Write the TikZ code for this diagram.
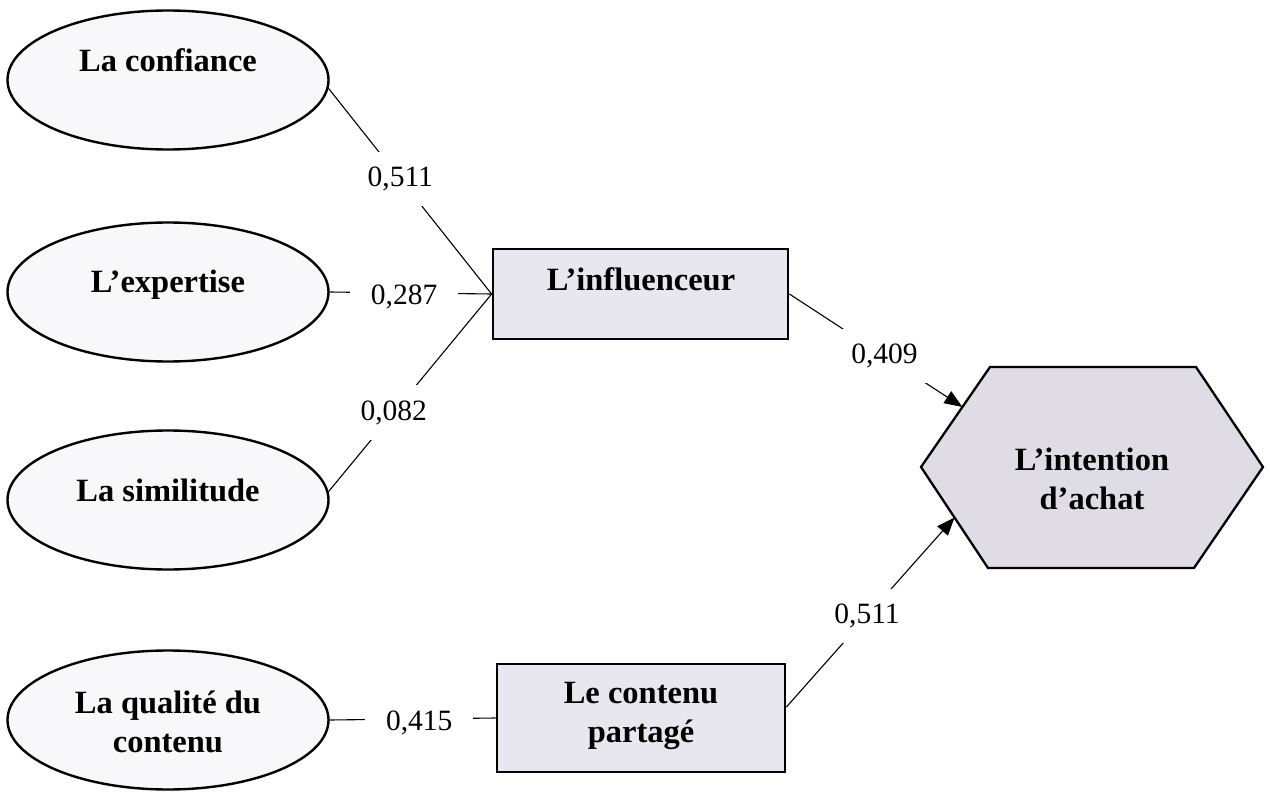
\documentclass[tikz,border=0pt]{standalone}
\usepackage{fontspec}
\setmainfont{Liberation Serif}
\usetikzlibrary{arrows.meta,calc,shapes.geometric}
\definecolor{ellfill}{RGB}{248,248,250}
\definecolor{boxfill}{RGB}{232,230,238}
\definecolor{hexfill}{RGB}{224,220,230}
\begin{document}
\begin{tikzpicture}[x=1pt,y=-1pt,
  latent/.style={ellipse,draw=black,line width=2.4pt,fill=ellfill,
    minimum width=321pt,minimum height=139pt,inner sep=0pt},
  construct/.style={rectangle,draw=black,line width=2.8pt,fill=boxfill,inner sep=0pt},
  title/.style={font=\fontsize{32.5}{38.5}\selectfont\bfseries,align=center,
    anchor=base,inner sep=0pt},
  coef/.style={font=\fontsize{29.5}{34}\selectfont,fill=white,
    inner xsep=21pt,inner ysep=15pt},
  link/.style={line width=1.1pt},
  effect/.style={link,-{Triangle[length=18pt,width=14pt]}},
]
\useasboundingbox (0,0) rectangle (1270,792);

% latent variables
\node[latent] (conf) at (168,80) {};
\node[title] (conf-t) at (168,72) {La confiance};
\node[latent] (expe) at (168,292) {};
\node[title] (expe-t) at (168,292) {L’expertise};
\node[latent] (simi) at (168,500) {};
\node[title] (simi-t) at (168,501) {La similitude};
\node[latent] (qual) at (168,720) {};
\node[title] (qual-t) at (168,752) {La qualité du\\contenu};

% mediating constructs
\node[construct,minimum width=295pt,minimum height=90pt] (infl) at (640.5,294) {};
\node[title] (infl-t) at (641,290) {L’influenceur};
\node[construct,minimum width=288pt,minimum height=108pt] (cont) at (641,718) {};
\node[title] (cont-t) at (641,742) {Le contenu\\partagé};

% outcome hexagon
\coordinate (hW)  at (921,467);
\coordinate (hNW) at (990,367);
\coordinate (hNE) at (1196,367);
\coordinate (hE)  at (1263,467);
\coordinate (hSE) at (1194,568);
\coordinate (hSW) at (988,568);
\draw[line width=2.3pt,fill=hexfill,line join=miter]
  (hW) -- (hNW) -- (hNE) -- (hE) -- (hSE) -- (hSW) -- cycle;
\node[title] (intent) at (1092,509) {L’intention\\d’achat};
\coordinate (tipA) at ($(hNW)!0.4!(hW)$);
\coordinate (tipB) at ($(hW)!0.5!(hSW)$);

% paths with coefficients
\draw[link] (conf.-3) -- node[coef,pos=0.44] {0,511} (infl.west);
\draw[link] (expe.east) -- node[coef,pos=0.46,yshift=-4pt] {0,287} (infl.west);
\draw[link] (simi.3) -- node[coef,pos=0.40] {0,082} (infl.west);
\draw[link] (qual.east) -- node[coef,pos=0.54,yshift=-4pt] {0,415} (cont.west);
\draw[effect] (infl.east) -- node[coef,pos=0.55] {0,409} (tipA);
\draw[effect] ([yshift=11pt]cont.east) -- node[coef,pos=0.48] {0,511} (tipB);
\end{tikzpicture}
\end{document}
